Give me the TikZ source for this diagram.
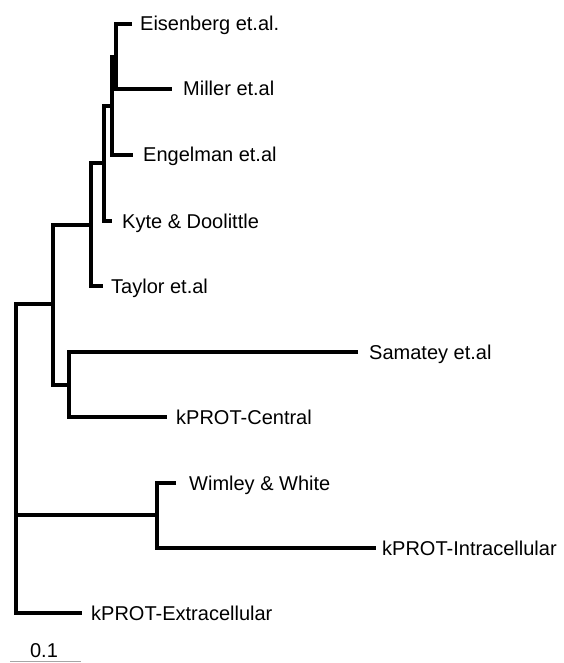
\documentclass[tikz,border=0pt]{standalone}
\usepackage{fontspec}
\setmainfont{Liberation Sans}
\begin{document}
\begin{tikzpicture}[x=1pt,y=-1pt,
  branch/.style={line width=3.4pt, line join=miter, line cap=butt},
  lbl/.style={anchor=base west, inner sep=0pt, font=\fontsize{20}{24}\selectfont},
  scalebar/.style={line width=1.3pt, color=black!35}]
\useasboundingbox (0,0) rectangle (563,663);
% leaf ends
\coordinate (eis) at (132,24);
\coordinate (mil) at (172,89);
\coordinate (eng) at (133,155);
\coordinate (kyt) at (112,221);
\coordinate (tay) at (103,286);
\coordinate (sam) at (358,352);
\coordinate (cen) at (167,417);
\coordinate (wim) at (176,483);
\coordinate (int) at (376,548);
\coordinate (ext) at (82,613);
% internal nodes
\coordinate (A) at (116,57);
\coordinate (B) at (112,106);
\coordinate (C) at (104,163);
\coordinate (D) at (91,225);
\coordinate (E) at (53,304);
\coordinate (F) at (69,385);
\coordinate (G) at (157,515);
\coordinate (R) at (16,515);
% branches
\draw[branch] (eis) -| (A) |- (mil);
\draw[branch] (A) -| (B) |- (eng);
\draw[branch] (B) -| (C) |- (kyt);
\draw[branch] (C) -| (D) |- (tay);
\draw[branch] (D) -| (E) |- (F);
\draw[branch] (sam) -| (F) |- (cen);
\draw[branch] (wim) -| (G) |- (int);
\draw[branch] (E) -| (R) |- (ext);
\draw[branch] (R) -- (G);
% labels
\node[lbl] (teis) at (140,31) {Eisenberg et.al.};
\node[lbl] (tmil) at (183,96) {Miller et.al};
\node[lbl] (teng) at (143,162) {Engelman et.al};
\node[lbl] (tkyt) at (122,228) {Kyte \& Doolittle};
\node[lbl] (ttay) at (111,293) {Taylor et.al};
\node[lbl] (tsam) at (369,359) {Samatey et.al};
\node[lbl] (tcen) at (176,424) {kPROT-Central};
\node[lbl] (twim) at (189,490) {Wimley \& White};
\node[lbl] (tint) at (382,555) {kPROT-Intracellular};
\node[lbl] (text) at (91,620) {kPROT-Extracellular};
% scale bar
\coordinate (sbL) at (10,661.5);
\coordinate (sbR) at (81,661.5);
\draw[scalebar] (sbL) -- (sbR);
\node[lbl, anchor=base] (tscale) at (44,657) {0.1};
\end{tikzpicture}
\end{document}
